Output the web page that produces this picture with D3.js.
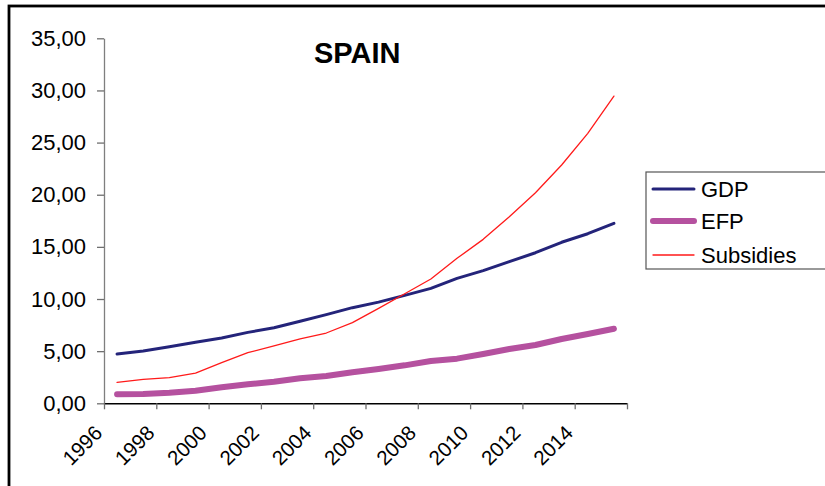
<!DOCTYPE html>
<html>
<head>
<meta charset="utf-8">
<script src="https://cdn.jsdelivr.net/npm/d3@7"></script>
<style>
  html, body { margin: 0; padding: 0; background: #fff; }
  svg { display: block; }
  text { font-family: "Liberation Sans", Arial, sans-serif; fill: #000; }
</style>
</head>
<body>
<svg id="chart" width="825" height="486"></svg>
<script>
// Annual series, 1996–2015
const years = d3.range(1996, 2016);
const gdp = [4.73, 5.01, 5.43, 5.85, 6.26, 6.80, 7.25, 7.86, 8.50, 9.17,
             9.70, 10.35, 11.02, 11.98, 12.72, 13.58, 14.44, 15.44, 16.26, 17.26];
const efp = [0.86, 0.89, 1.02, 1.21, 1.53, 1.82, 2.07, 2.40, 2.62, 2.97,
             3.29, 3.64, 4.06, 4.28, 4.73, 5.20, 5.59, 6.17, 6.64, 7.15];
const subsidies = [2.01, 2.30, 2.46, 2.90, 3.90, 4.85, 5.50, 6.17, 6.74, 7.73,
                   9.10, 10.50, 11.92, 13.90, 15.72, 17.89, 20.19, 22.85, 25.89, 29.46];
const yTicks = [0, 5, 10, 15, 20, 25, 30, 35];
const xTickYears = [1996, 1998, 2000, 2002, 2004, 2006, 2008, 2010, 2012, 2014];
const seriesNames = ["GDP", "EFP", "Subsidies"];

const series = [
  { name: seriesNames[0], values: gdp,       color: "#24247a", width: 3 },
  { name: seriesNames[1], values: efp,       color: "#b5519f", width: 6 },
  { name: seriesNames[2], values: subsidies, color: "#ff1a1a", width: 1.3 }
];

const svg = d3.select("#chart");

// Outer chart frame
svg.append("rect")
  .attr("x", 9).attr("y", 6)
  .attr("width", 900).attr("height", 900)
  .attr("fill", "none").attr("stroke", "#000").attr("stroke-width", 2.8);

// Category axis: boundaries between years, points at centres
const x = d3.scaleLinear().domain([0, years.length]).range([104, 627]);
const y = d3.scaleLinear().domain([0, 35]).range([403.3, 38.3]);

const fmt = d => d.toFixed(2).replace(".", ",");

// Y axis
const yAxis = svg.append("g")
  .attr("transform", `translate(${x(0)},0)`)
  .call(d3.axisLeft(y).tickValues(yTicks).tickFormat(fmt)
        .tickSize(7).tickSizeOuter(0).tickPadding(11));
yAxis.select(".domain").attr("stroke", "#7f7f7f").attr("stroke-width", 1.3);
yAxis.selectAll(".tick line").attr("stroke", "#6f6f6f").attr("stroke-width", 1.3);
yAxis.selectAll(".tick text")
  .style("font-family", "'Liberation Sans', Arial, sans-serif")
  .style("font-size", "22px").attr("fill", "#000");

// X axis
const xTickPos = d3.range(0, years.length + 1, 2);
const xAxis = svg.append("g")
  .attr("transform", `translate(0,${y(0)})`)
  .call(d3.axisBottom(x).tickValues(xTickPos)
        .tickFormat(i => (xTickYears.includes(years[i]) ? String(years[i]) : ""))
        .tickSize(6).tickSizeOuter(0));
xAxis.select(".domain").attr("stroke", "#000").attr("stroke-width", 1.5);
xAxis.selectAll(".tick line").attr("stroke", "#6f6f6f").attr("stroke-width", 1.3);
xAxis.selectAll(".tick text")
  .style("font-family", "'Liberation Sans', Arial, sans-serif")
  .style("font-size", "20.5px").attr("fill", "#000")
  .attr("x", 0).attr("y", 0).attr("dy", 0)
  .attr("text-anchor", "end")
  .attr("transform", "translate(-1,31) rotate(-45)");

// Series lines
const line = d3.line()
  .x((d, i) => x(i + 0.5))
  .y(d => y(d));

svg.append("g").selectAll("path")
  .data(series)
  .join("path")
  .attr("d", s => line(s.values))
  .attr("fill", "none")
  .attr("stroke", s => s.color)
  .attr("stroke-width", s => s.width)
  .attr("stroke-linejoin", "round")
  .attr("stroke-linecap", "round");

// Title
svg.append("text")
  .attr("x", 314).attr("y", 63)
  .style("font-size", "29px").style("font-weight", "bold")
  .text("SPAIN");

// Legend
const legend = svg.append("g");
legend.append("rect")
  .attr("x", 646).attr("y", 172)
  .attr("width", 200).attr("height", 97)
  .attr("fill", "#fff").attr("stroke", "#555").attr("stroke-width", 1.2);

const legendRows = [189, 221, 255];
const rows = legend.selectAll("g.row")
  .data(series)
  .join("g").attr("class", "row")
  .attr("transform", (s, i) => `translate(0,${legendRows[i]})`);
rows.append("line")
  .attr("x1", 653).attr("x2", 694)
  .attr("y1", 0).attr("y2", 0)
  .attr("stroke", s => s.color)
  .attr("stroke-width", s => s.width)
  .attr("stroke-linecap", "round");
rows.append("text")
  .attr("x", 701).attr("y", 7.5)
  .style("font-size", "22px")
  .text(s => s.name);
</script>
</body>
</html>
